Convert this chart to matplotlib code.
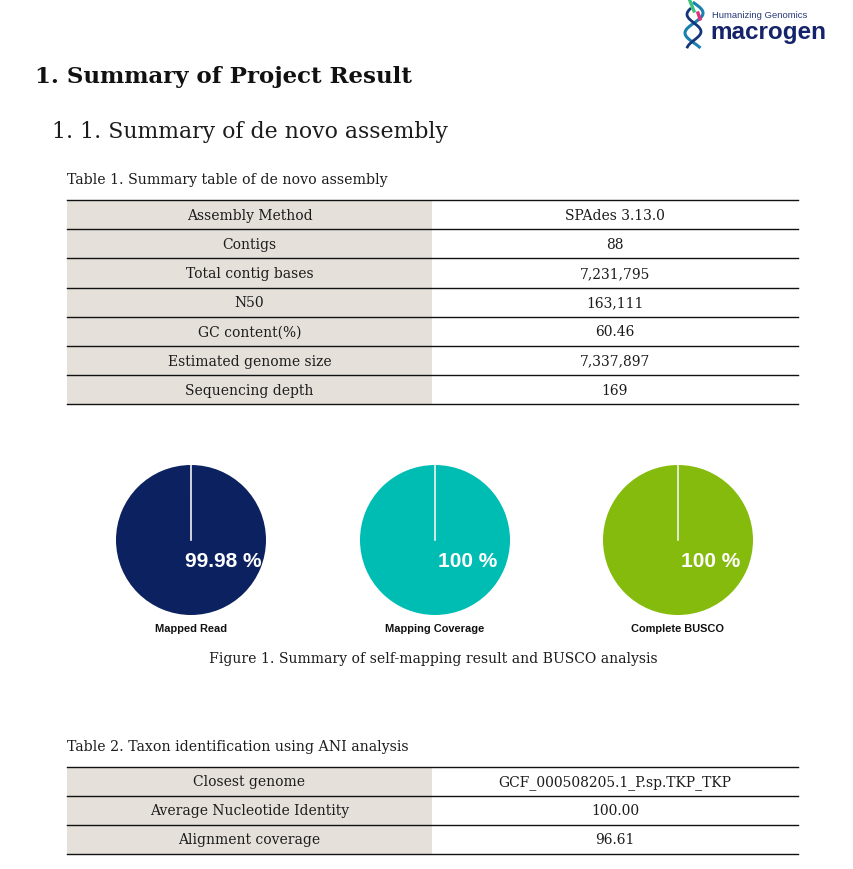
"""Macrogen report page: assembly summary tables and mapping pies."""
import matplotlib
matplotlib.use("Agg")
import matplotlib.pyplot as plt
import numpy as np

W, H = 854, 870

# table 1
t1_fields = ["Assembly Method", "Contigs", "Total contig bases", "N50",
             "GC content(%)", "Estimated genome size", "Sequencing depth"]
t1_values = ["SPAdes 3.13.0", "88", "7,231,795", "163,111", "60.46",
             "7,337,897", "169"]

# pies
pie_names = ["Mapped Read", "Mapping Coverage", "Complete BUSCO"]
pie_pct = [99.98, 100, 100]
pie_text = ["99.98 %", "100 %", "100 %"]
pie_colors = ["#0c215f", "#00bdb4", "#85bb0c"]

# table 2
t2_fields = ["Closest genome", "Average Nucleotide Identity", "Alignment coverage"]
t2_values = ["GCF_000508205.1_P.sp.TKP_TKP", "100.00", "96.61"]

SERIF = "DejaVu Serif"
SANS = "Liberation Sans"
INK = "#1c1c1c"
GRAY = "#e5e0da"

fig = plt.figure(figsize=(W / 100, H / 100), dpi=100)
ax = fig.add_axes([0, 0, 1, 1])
ax.set_xlim(0, W)
ax.set_ylim(H, 0)
ax.axis("off")


def draw_table(top, fields, values, row_h=29.2, x0=67, xm=432, x1=798):
    n = len(fields)
    ax.fill_between([x0, xm], top, top + n * row_h, color=GRAY, lw=0)
    for i in range(n + 1):
        ax.plot([x0, x1], [top + i * row_h] * 2, color="#111111", lw=1.0)
    for i, (f, v) in enumerate(zip(fields, values)):
        yc = top + (i + 0.5) * row_h
        ax.text((x0 + xm) / 2, yc, f, ha="center", va="center",
                family=SERIF, fontsize=10, color=INK)
        ax.text((xm + x1) / 2, yc, v, ha="center", va="center",
                family=SERIF, fontsize=10, color=INK)


# headings
ax.text(35, 77, "1. Summary of Project Result", ha="left", va="center",
        family=SERIF, fontsize=16.5, fontweight="bold", color="#111111")
ax.text(52, 132, "1. 1. Summary of de novo assembly", ha="left", va="center",
        family=SERIF, fontsize=15.8, color=INK)

# logo: small helix mark + wordmark
tt = np.linspace(0, 1, 60)
ax.plot(694 + 9 * np.sin(tt * 2.2 * np.pi), 4 + 44 * tt, color="#1b7fb0", lw=2.2)
ax.plot(694 - 7 * np.sin(tt * 2.2 * np.pi + 0.6), 10 + 38 * tt, color="#14357a", lw=2.0)
ax.plot([690, 694], [2, 12], color="#3cc47a", lw=2.4)
ax.plot([698, 700], [14, 20], color="#e0307a", lw=2.4)
ax.text(712, 15, "Humanizing Genomics", ha="left", va="center",
        family=SANS, fontsize=6.8, color="#2a3a7a")
ax.text(710, 32, "macrogen", ha="left", va="center",
        family=SANS, fontsize=17.5, fontweight="bold", color="#15246a")

# table 1
ax.text(67, 180, "Table 1. Summary table of de novo assembly", ha="left",
        va="center", family=SERIF, fontsize=10.2, color=INK)
draw_table(201, t1_fields, t1_values)

# pies
centers_x = [191, 435, 678]
cy, r = 541, 75
for cx, name, pct, txt, col in zip(centers_x, pie_names, pie_pct, pie_text, pie_colors):
    pax = fig.add_axes([(cx - r) / W, 1 - (cy + r) / H, 2 * r / W, 2 * r / H])
    pax.pie([pct, 100 - pct], colors=[col, col], startangle=90,
            counterclock=False, radius=1.0,
            wedgeprops=dict(linewidth=0))
    pax.plot([0, 0], [0, 1], color="#f2f2f2", lw=1.2)
    pax.set_xlim(-1, 1)
    pax.set_ylim(-1, 1)
    pax.set_aspect("equal")
    pax.axis("off")
    pax.text(0.43, -0.27, txt, ha="center", va="center", family=SANS,
             fontsize=15, fontweight="bold", color="white")
    ax.text(cx, 629, name, ha="center", va="center", family=SANS,
            fontsize=7.9, fontweight="bold", color="#111111")

ax.text(433, 659, "Figure 1. Summary of self-mapping result and BUSCO analysis",
        ha="center", va="center", family=SERIF, fontsize=10.1, color=INK)

# table 2
ax.text(67, 747, "Table 2. Taxon identification using ANI analysis", ha="left",
        va="center", family=SERIF, fontsize=10.2, color=INK)
draw_table(768, t2_fields, t2_values, row_h=29.0)

fig.savefig("out.png", dpi=100, facecolor="white")
